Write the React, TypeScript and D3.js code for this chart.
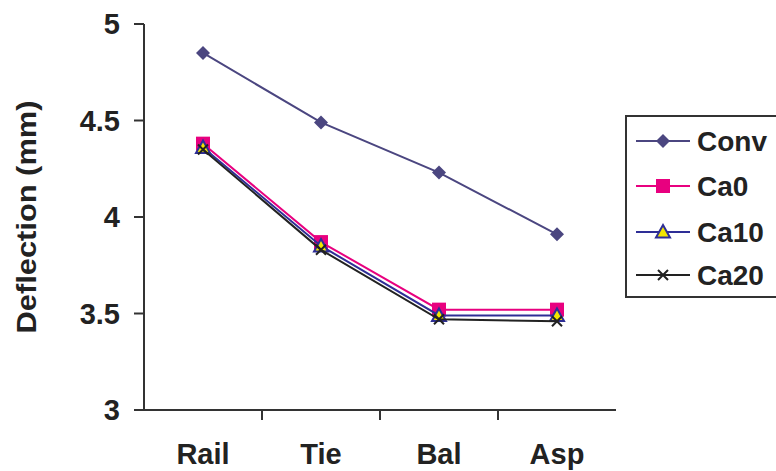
import React from "react";
import * as d3 from "d3";

const categories = ["Rail", "Tie", "Bal", "Asp"];
const conv = [4.85, 4.49, 4.23, 3.91];
const ca0 = [4.38, 3.87, 3.52, 3.52];
const ca10 = [4.36, 3.85, 3.49, 3.49];
const ca20 = [4.35, 3.83, 3.47, 3.46];
const yTicks = [3, 3.5, 4, 4.5, 5];

const W = 776;
const H = 471;
const left = 144;
const right = 616;
const top = 24;
const bottom = 410;

const font = "'Liberation Sans', Arial, sans-serif";

export default function App() {
  const x = d3.scaleBand<string>().domain(categories).range([left, right]);
  const y = d3.scaleLinear().domain([3, 5]).range([bottom, top]);
  const cx = (c: string) => (x(c) as number) + x.bandwidth() / 2;
  const line = d3
    .line<number>()
    .x((_, i) => cx(categories[i]))
    .y((d) => y(d));

  const series = [
    { name: "Conv", data: conv, color: "#4b4680", marker: "diamond" },
    { name: "Ca0", data: ca0, color: "#e8007f", marker: "square" },
    { name: "Ca10", data: ca10, color: "#2e2e96", marker: "triangle" },
    { name: "Ca20", data: ca20, color: "#222222", marker: "x" },
  ];

  const drawMarker = (m: string, px: number, py: number, color: string, key: string) => {
    if (m === "diamond") {
      const s = 7;
      return (
        <path key={key} d={`M${px},${py - s}L${px + s},${py}L${px},${py + s}L${px - s},${py}Z`} fill={color} />
      );
    }
    if (m === "square") {
      const s = 7;
      return <rect key={key} x={px - s} y={py - s} width={2 * s} height={2 * s} fill={color} />;
    }
    if (m === "triangle") {
      const s = 7;
      return (
        <path
          key={key}
          d={`M${px},${py - s}L${px + s},${py + s * 0.8}L${px - s},${py + s * 0.8}Z`}
          fill="#f2e600"
          stroke={color}
          strokeWidth={2}
        />
      );
    }
    const s = 5;
    return (
      <path
        key={key}
        d={`M${px - s},${py - s}L${px + s},${py + s}M${px + s},${py - s}L${px - s},${py + s}`}
        stroke={color}
        strokeWidth={2}
        fill="none"
      />
    );
  };

  const legendY = [141, 186, 232, 275];

  return (
    <svg width={W} height={H} style={{ position: "absolute", left: 0, top: 0 }} fontFamily={font}>
      <rect width={W} height={H} fill="#fff" />
      {/* axes */}
      <line x1={left} x2={left} y1={top} y2={bottom} stroke="#333" strokeWidth={2} />
      <line x1={left} x2={right} y1={bottom} y2={bottom} stroke="#333" strokeWidth={2} />
      {yTicks.map((t) => (
        <g key={t}>
          <line x1={left - 10} x2={left} y1={y(t)} y2={y(t)} stroke="#333" strokeWidth={2} />
          <text x={left - 24} y={y(t)} dy="0.36em" textAnchor="end" fontSize={29} fontWeight="bold" fill="#222">
            {t}
          </text>
        </g>
      ))}
      {categories.slice(1).map((c) => (
        <line key={c} x1={x(c) as number} x2={x(c) as number} y1={bottom} y2={bottom + 10} stroke="#333" strokeWidth={2} />
      ))}
      {categories.map((c) => (
        <text key={c} x={cx(c)} y={464} textAnchor="middle" fontSize={29} fontWeight="bold" fill="#222">
          {c}
        </text>
      ))}
      <text
        transform={`translate(36,217) rotate(-90)`}
        textAnchor="middle"
        fontSize={27}
        fontWeight="bold"
        fill="#222"
        textLength={233}
        lengthAdjust="spacingAndGlyphs"
      >
        Deflection (mm)
      </text>
      {/* series */}
      {series.map((s) => (
        <g key={s.name}>
          <path d={line(s.data) as string} fill="none" stroke={s.color} strokeWidth={2} />
          {s.data.map((v, i) => drawMarker(s.marker, cx(categories[i]), y(v), s.color, s.name + i))}
        </g>
      ))}
      {/* legend */}
      <rect x={626} y={116} width={160} height={181} fill="#fff" stroke="#333" strokeWidth={2} />
      {series.map((s, i) => (
        <g key={s.name}>
          <line x1={636} x2={690} y1={legendY[i]} y2={legendY[i]} stroke={s.color} strokeWidth={2} />
          {drawMarker(s.marker, 663, legendY[i], s.color, "l" + i)}
          <text x={697} y={legendY[i]} dy="0.36em" fontSize={28} fontWeight="bold" fill="#222">
            {s.name}
          </text>
        </g>
      ))}
    </svg>
  );
}
